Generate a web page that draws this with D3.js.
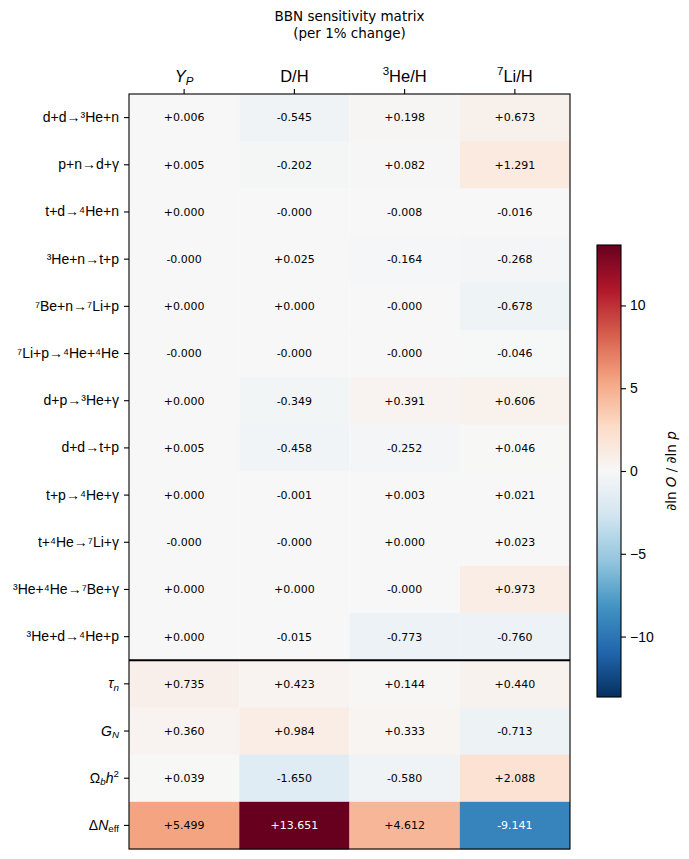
<!DOCTYPE html>
<html lang="en">
<head>
<meta charset="UTF-8">
<script src="https://d3js.org/d3.v7.min.js"></script>
<style>
  body { margin: 0; background: white; }
  svg { font-family: "DejaVu Sans", sans-serif; }
  .cell-text { font-size: 11px; }
  .rowlab { font-size: 14px; }
  .collab { font-size: 16.5px; }
</style>
<title>BBN sensitivity matrix</title>
</head>
<body>
<svg width="689" height="859"></svg>
<script>
// observables (columns)
const observables = ["Yp", "D/H", "3He/H", "7Li/H"];

// rows: nuclear reactions then cosmological parameters
const reactions = [
  "d+d→³He+n", "p+n→d+γ", "t+d→⁴He+n", "³He+n→t+p", "⁷Be+n→⁷Li+p",
  "⁷Li+p→⁴He+⁴He", "d+p→³He+γ", "d+d→t+p", "t+p→⁴He+γ", "t+⁴He→⁷Li+γ",
  "³He+⁴He→⁷Be+γ", "³He+d→⁴He+p"
];
const params = ["tau_n", "G_N", "Omegab_h2", "dNeff"];

// d ln O / d ln p  (per 1% change), one array per row
const sens = [
  [ 0.006, -0.545,  0.198,  0.673],
  [ 0.005, -0.202,  0.082,  1.291],
  [ 0.0001, -0.0001, -0.008, -0.016],
  [-0.0001, 0.025, -0.164, -0.268],
  [ 0.0001, 0.0001, -0.0001, -0.678],
  [-0.0001, -0.0001, -0.0001, -0.046],
  [ 0.0001, -0.349,  0.391,  0.606],
  [ 0.005, -0.458, -0.252,  0.046],
  [ 0.0001, -0.001,  0.003,  0.021],
  [-0.0001, -0.0001, 0.0001, 0.023],
  [ 0.0001, 0.0001, -0.0001, 0.973],
  [ 0.0001, -0.015, -0.773, -0.760],
  [ 0.735,  0.423,  0.144,  0.440],
  [ 0.360,  0.984,  0.333, -0.713],
  [ 0.039, -1.650, -0.580,  2.088],
  [ 5.499, 13.651,  4.612, -9.141]
];
const cbarTicks = [-10, -5, 0, 5, 10];

// rich labels (mathtext-like)
const richParts = {
  "Yp": [{t: "Y", i: 1}, {t: "P", i: 1, sub: 1}],
  "D/H": [{t: "D/H"}],
  "3He/H": [{t: "3", sup: 1}, {t: "He/H"}],
  "7Li/H": [{t: "7", sup: 1}, {t: "Li/H"}],
  "tau_n": [{t: "τ", i: 1}, {t: "n", i: 1, sub: 1}],
  "G_N": [{t: "G", i: 1}, {t: "N", i: 1, sub: 1}],
  "Omegab_h2": [{t: "Ω"}, {t: "b", i: 1, sub: 1}, {t: "h", i: 1}, {t: "2", sup: 1}],
  "dNeff": [{t: "Δ"}, {t: "N", i: 1}, {t: "eff", sub: 1}]
};

function rich(text, parts) {
  text.text("");
  const fs = parseFloat(text.style("font-size")) || 12;
  let off = 0;
  parts.forEach(p => {
    const target = p.sub ? 0.18 : p.sup ? -0.4 : 0;
    const ts = text.append("tspan").text(p.t);
    if (p.i) ts.attr("font-style", "italic");
    if (p.sub || p.sup) ts.attr("font-size", fs * 0.7);
    const dy = (target - off) * fs;
    if (dy !== 0) ts.attr("dy", dy);
    off = target;
  });
}

const rowNames = reactions.concat(params);
const W = 689, H = 859;
const margin = {top: 94, right: 119, bottom: 10, left: 129};
const svg = d3.select("svg");

const x = d3.scaleBand().domain(observables).range([margin.left, W - margin.right]);
const y = d3.scaleBand().domain(rowNames).range([margin.top, H - margin.bottom]);

const vmax = d3.max(sens.flat(), v => Math.abs(v));
// matplotlib RdBu_r
const rdbu = ["#053061", "#2166ac", "#4393c3", "#92c5de", "#d1e5f0", "#f7f7f7",
              "#fddbc7", "#f4a582", "#d6604d", "#b2182b", "#67001f"];
const color = d3.scaleLinear()
  .domain(d3.range(11).map(i => -vmax + i * 2 * vmax / 10))
  .range(rdbu)
  .interpolate(d3.interpolateRgb)
  .clamp(true);

const fmt = v => (v < 0 ? "-" : "+") + Math.abs(v).toFixed(3);

const cells = [];
sens.forEach((row, r) => row.forEach((v, c) => cells.push({row: rowNames[r], col: observables[c], v})));

svg.append("g").selectAll("rect")
  .data(cells).enter().append("rect")
  .attr("x", d => x(d.col)).attr("y", d => y(d.row))
  .attr("width", x.bandwidth()).attr("height", y.bandwidth() + 0.5)
  .attr("fill", d => color(d.v));

svg.append("g").selectAll("text")
  .data(cells).enter().append("text")
  .attr("class", "cell-text")
  .attr("x", d => x(d.col) + x.bandwidth() / 2)
  .attr("y", d => y(d.row) + y.bandwidth() / 2)
  .attr("text-anchor", "middle").attr("dy", "0.35em")
  .attr("fill", d => Math.abs(d.v) > vmax * 0.5 ? "white" : "black")
  .text(d => fmt(d.v));

// divider between reactions and parameters
svg.append("line")
  .attr("x1", margin.left).attr("x2", W - margin.right)
  .attr("y1", y(params[0])).attr("y2", y(params[0]))
  .attr("stroke", "black").attr("stroke-width", 2.2);

// frame
svg.append("rect")
  .attr("x", margin.left).attr("y", margin.top)
  .attr("width", x.range()[1] - x.range()[0]).attr("height", y.range()[1] - y.range()[0])
  .attr("fill", "none").attr("stroke", "black").attr("stroke-width", 1.1);

// top axis
const gx = svg.append("g")
  .attr("transform", `translate(0,${margin.top})`)
  .call(d3.axisTop(x).tickSize(5).tickPadding(7));
gx.select(".domain").remove();
gx.selectAll("line").attr("stroke-width", 1.1);
gx.selectAll("text").attr("class", "collab").attr("font-family", null).attr("font-size", null)
  .each(function(d) { rich(d3.select(this), richParts[d]); });

// left axis
const gy = svg.append("g")
  .attr("transform", `translate(${margin.left},0)`)
  .call(d3.axisLeft(y).tickSize(5).tickPadding(5));
gy.select(".domain").remove();
gy.selectAll("line").attr("stroke-width", 1.1);
gy.selectAll("text").attr("class", "rowlab").attr("font-family", null).attr("font-size", null)
  .each(function(d) { if (richParts[d]) rich(d3.select(this), richParts[d]); });

// title
const tx = (x.range()[0] + x.range()[1]) / 2;
svg.append("text").attr("x", tx).attr("y", 21)
  .attr("text-anchor", "middle").attr("font-size", 13.5).text("BBN sensitivity matrix");
svg.append("text").attr("x", tx).attr("y", 38)
  .attr("text-anchor", "middle").attr("font-size", 13.5).text("(per 1% change)");

// colorbar
const cb = {x: 597, y: 245, w: 24, h: 452};
const cScale = d3.scaleLinear().domain([-vmax, vmax]).range([cb.y + cb.h, cb.y]);
const grad = svg.append("defs").append("linearGradient")
  .attr("id", "cbgrad").attr("x1", 0).attr("y1", 1).attr("x2", 0).attr("y2", 0);
grad.selectAll("stop").data(d3.range(0, 1.0001, 0.02)).enter().append("stop")
  .attr("offset", t => t)
  .attr("stop-color", t => color(-vmax + t * 2 * vmax));
svg.append("rect").attr("x", cb.x).attr("y", cb.y).attr("width", cb.w).attr("height", cb.h)
  .attr("fill", "url(#cbgrad)").attr("stroke", "black").attr("stroke-width", 1.1);
const gc = svg.append("g")
  .attr("transform", `translate(${cb.x + cb.w},0)`)
  .call(d3.axisRight(cScale).tickValues(cbarTicks).tickSize(5).tickPadding(4));
gc.select(".domain").remove();
gc.selectAll("line").attr("stroke-width", 1.1);
gc.selectAll("text").attr("font-family", null).attr("font-size", 14);

const cl = svg.append("text")
  .attr("transform", `translate(676,${cb.y + cb.h / 2}) rotate(-90)`)
  .attr("text-anchor", "middle").attr("font-size", 13.5);
[["∂ln ", 0], ["O", 1], [" / ∂ln ", 0], ["p", 1]].forEach(([t, it]) => {
  const ts = cl.append("tspan").text(t);
  if (it) ts.attr("font-style", "italic");
});
</script>
</body>
</html>
